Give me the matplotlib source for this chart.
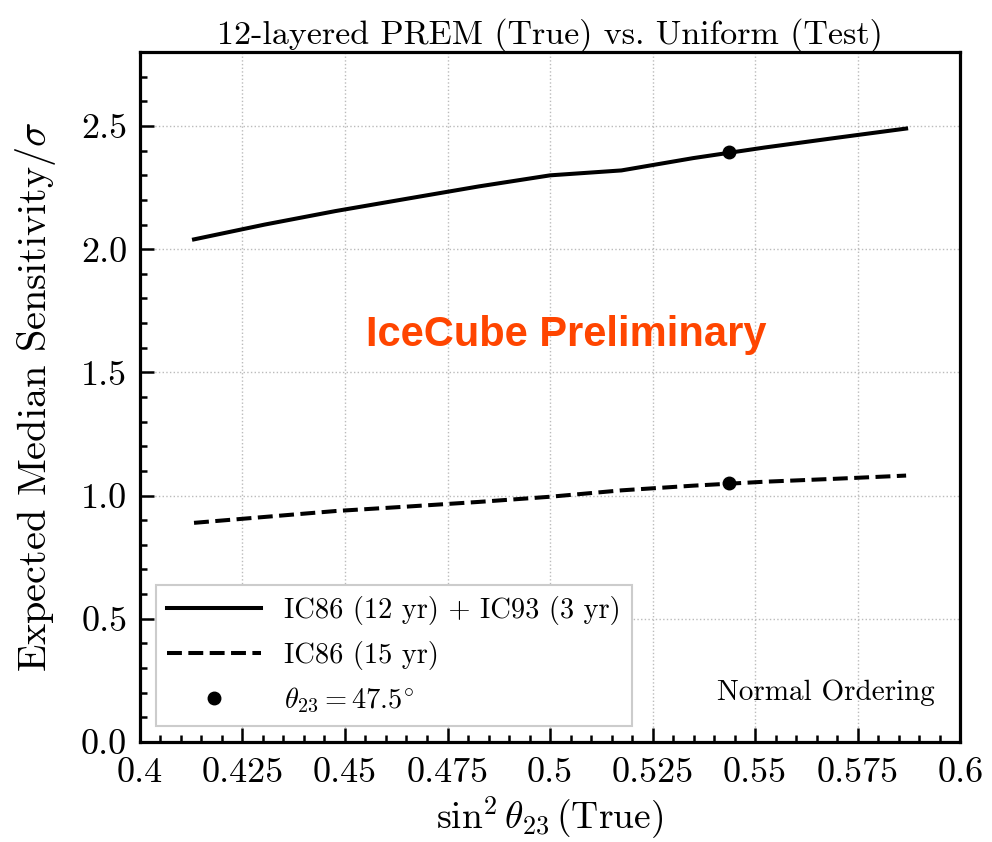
import matplotlib
matplotlib.use("Agg")
import matplotlib.pyplot as plt
from matplotlib.ticker import MultipleLocator

plt.rcParams["font.family"] = "cmr10"
plt.rcParams["mathtext.fontset"] = "cm"
plt.rcParams["axes.unicode_minus"] = False
plt.rcParams["axes.formatter.use_mathtext"] = True

# sin^2(theta23) for theta23 = 40..50 deg
sin2 = [0.4132, 0.4304, 0.4477, 0.4651, 0.4826, 0.5, 0.5174, 0.5349, 0.5523, 0.5696, 0.5868]
sens_combined = [2.04, 2.10, 2.155, 2.205, 2.255, 2.30, 2.32, 2.37, 2.413, 2.452, 2.49]
sens_ic86 = [0.889, 0.913, 0.937, 0.955, 0.974, 0.995, 1.021, 1.040, 1.056, 1.068, 1.081]

mark_x = 0.5436
mark_combined = 2.393
mark_ic86 = 1.049

xticks = [0.4, 0.425, 0.45, 0.475, 0.5, 0.525, 0.55, 0.575, 0.6]
xticklabels = ["0.4", "0.425", "0.45", "0.475", "0.5", "0.525", "0.55", "0.575", "0.6"]
yticks = [0.0, 0.5, 1.0, 1.5, 2.0, 2.5]
yticklabels = ["0.0", "0.5", "1.0", "1.5", "2.0", "2.5"]

fig = plt.figure(figsize=(9.92, 8.42), dpi=100)
ax = fig.add_axes([0.141, 0.119, 0.827, 0.819])

ax.plot(sin2, sens_combined, color="black", lw=2.9, label="IC86 (12 yr) + IC93 (3 yr)")
ax.plot(sin2, sens_ic86, color="black", lw=2.9, ls="--", label="IC86 (15 yr)")
ax.plot([mark_x, mark_x], [mark_combined, mark_ic86], ls="none", marker="o",
        color="black", ms=9, label=r"$\theta_{23} = 47.5^{\circ}$")

ax.set_xlim(0.4, 0.6)
ax.set_ylim(0.0, 2.8)
ax.set_xticks(xticks)
ax.set_xticklabels(xticklabels)
ax.set_yticks(yticks)
ax.set_yticklabels(yticklabels)
ax.xaxis.set_minor_locator(MultipleLocator(0.005))
ax.yaxis.set_minor_locator(MultipleLocator(0.1))
ax.tick_params(which="both", direction="in", labelsize=26, width=1.8)
ax.tick_params(which="major", length=10)
ax.tick_params(which="minor", length=5)
ax.tick_params(axis="x", which="major", pad=11)
ax.tick_params(axis="y", which="major", pad=9)
for s in ax.spines.values():
    s.set_linewidth(2.3)

ax.grid(True, which="major", ls=":", color="#bbbbbb", lw=1)

ax.set_xlabel(r"$\sin^2\theta_{23}\,$(True)", fontsize=27, labelpad=4)
ax.set_ylabel(r"Expected Median Sensitivity$/\sigma$", fontsize=29, labelpad=17)
ax.set_title("12-layered PREM (True) vs. Uniform (Test)", fontsize=24.5, pad=5)

ax.text(0.504, 1.65, "IceCube Preliminary", color="#ff4500", fontsize=30,
        fontweight="bold", family="Liberation Sans", ha="center", va="center")
ax.text(0.5937, 0.2, "Normal Ordering", fontsize=21, ha="right", va="center")

leg = ax.legend(loc="lower left", fontsize=20.5, handlelength=3.3, frameon=True,
                fancybox=False, framealpha=1, edgecolor="#cccccc",
                borderaxespad=0.55, labelspacing=0.55)
leg.get_frame().set_linewidth(1.5)

fig.savefig("out.png", dpi=100)
